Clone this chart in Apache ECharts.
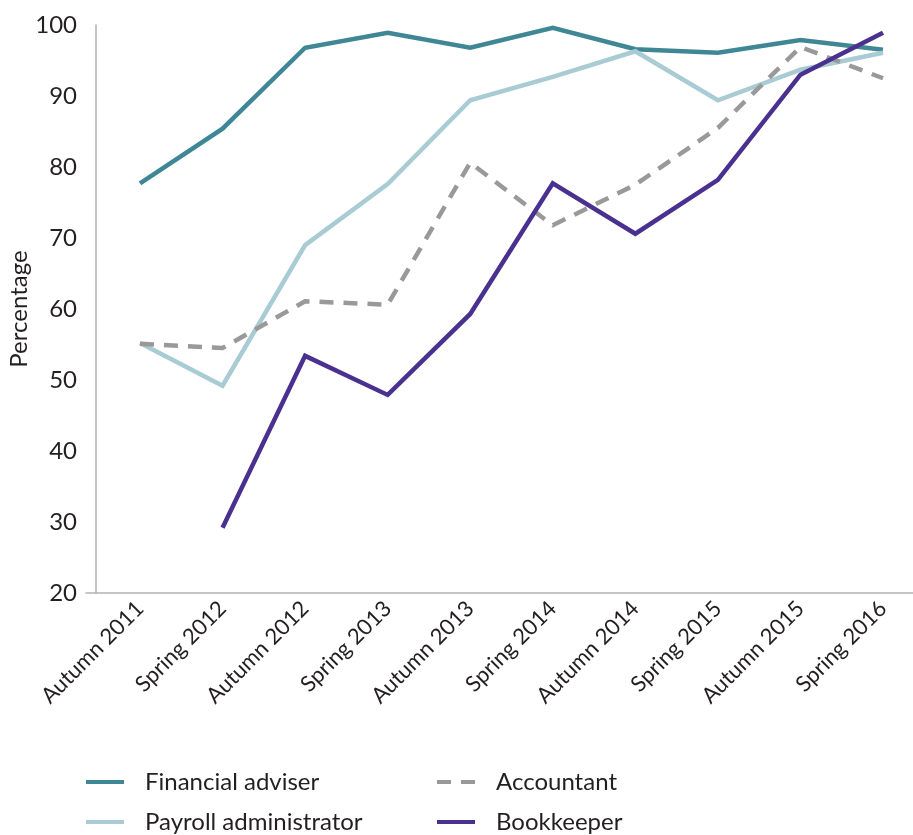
<!DOCTYPE html>
<html>
<head>
<meta charset="utf-8">
<script src="https://cdn.jsdelivr.net/npm/echarts@6/dist/echarts.min.js"></script>
<style>
  html, body { margin: 0; padding: 0; background: #ffffff; }
  #chart { width: 913px; height: 835px; }
</style>
</head>
<body>
<div id="chart"></div>
<script>
// Survey waves along the horizontal axis
const categories = ['Autumn 2011', 'Spring 2012', 'Autumn 2012', 'Spring 2013', 'Autumn 2013',
  'Spring 2014', 'Autumn 2014', 'Spring 2015', 'Autumn 2015', 'Spring 2016'];

// Percentage per occupation and wave
const financialAdviser = [77.7, 85.4, 96.8, 98.9, 96.8, 99.6, 96.6, 96.1, 97.9, 96.5];
const payrollAdministrator = [55.2, 49.2, 69.0, 77.6, 89.4, 92.7, 96.3, 89.4, 93.7, 96.1];
const accountant = [55.1, 54.5, 61.1, 60.6, 80.6, 71.8, 77.5, 85.5, 96.9, 92.5];
const bookkeeper = [null, 29.2, 53.4, 47.9, 59.3, 77.7, 70.6, 78.2, 93.0, 98.9];

// Value axis range
const yMin = 20, yMax = 100, yStep = 10;

const font = 'Lato, "Noto Sans", sans-serif';
const textColor = '#231f20';
const axisGrey = '#b3b3b3';

function lineSeries(name, data, color, dashed) {
  return {
    name: name,
    type: 'line',
    xAxisIndex: 1,
    yAxisIndex: 1,
    data: data,
    symbol: 'none',
    connectNulls: false,
    lineStyle: { color: color, width: 4.5, type: dashed ? [14, 10] : 'solid', cap: 'butt', join: 'miter' },
    itemStyle: { color: color },
    emphasis: { disabled: true }
  };
}

function legendColumn(left, names) {
  return {
    orient: 'vertical', left: left, top: 770, padding: 0, itemGap: 16,
    itemWidth: 38, itemHeight: 14,
    itemStyle: { opacity: 0 },
    lineStyle: { width: 4 },
    textStyle: { fontFamily: font, fontSize: 24, color: textColor, padding: [0, 0, 0, 16] },
    data: names
  };
}

const chart = echarts.init(document.getElementById('chart'), null, { renderer: 'canvas' });
chart.setOption({
  animation: false,
  backgroundColor: '#ffffff',
  grid: [
    // frame for the horizontal baseline
    { left: 86, right: 0, top: 25, bottom: 242, containLabel: false, outerBoundsMode: 'none' },
    // plotting area
    { left: 140, right: 30, top: 25, bottom: 242, containLabel: false, outerBoundsMode: 'none' }
  ],
  xAxis: [
    {
      type: 'category', gridIndex: 0, data: categories,
      axisLine: { show: true, lineStyle: { color: axisGrey, width: 1.5 } },
      axisTick: { show: false }, axisLabel: { show: false }, splitLine: { show: false }
    },
    {
      type: 'category', gridIndex: 1, data: categories, boundaryGap: false,
      axisLine: { show: false }, axisTick: { show: false }, splitLine: { show: false },
      axisLabel: {
        rotate: 45, margin: 12, interval: 0,
        fontFamily: font, fontSize: 22, color: textColor
      }
    }
  ],
  yAxis: [
    {
      type: 'value', gridIndex: 0, min: yMin, max: yMax, interval: yStep, show: false
    },
    {
      type: 'value', gridIndex: 1, min: yMin, max: yMax, interval: yStep,
      offset: 44,
      name: 'Percentage', nameLocation: 'middle', nameRotate: 90, nameGap: 65,
      nameMoveOverlap: false,
      nameTextStyle: { fontFamily: font, fontSize: 24, color: textColor },
      axisLine: { show: true, lineStyle: { color: axisGrey, width: 1.5 } },
      axisTick: { show: false },
      splitLine: { show: false },
      axisLabel: { margin: 19, fontFamily: font, fontSize: 24, color: textColor }
    }
  ],
  legend: [
    legendColumn(84, ['Financial adviser', 'Payroll administrator']),
    legendColumn(435, ['Accountant', 'Bookkeeper'])
  ],
  series: [
    lineSeries('Financial adviser', financialAdviser, '#3f8795', false),
    lineSeries('Payroll administrator', payrollAdministrator, '#a9cbd3', false),
    lineSeries('Accountant', accountant, '#999999', true),
    lineSeries('Bookkeeper', bookkeeper, '#4a3190', false)
  ]
});
</script>
</body>
</html>
